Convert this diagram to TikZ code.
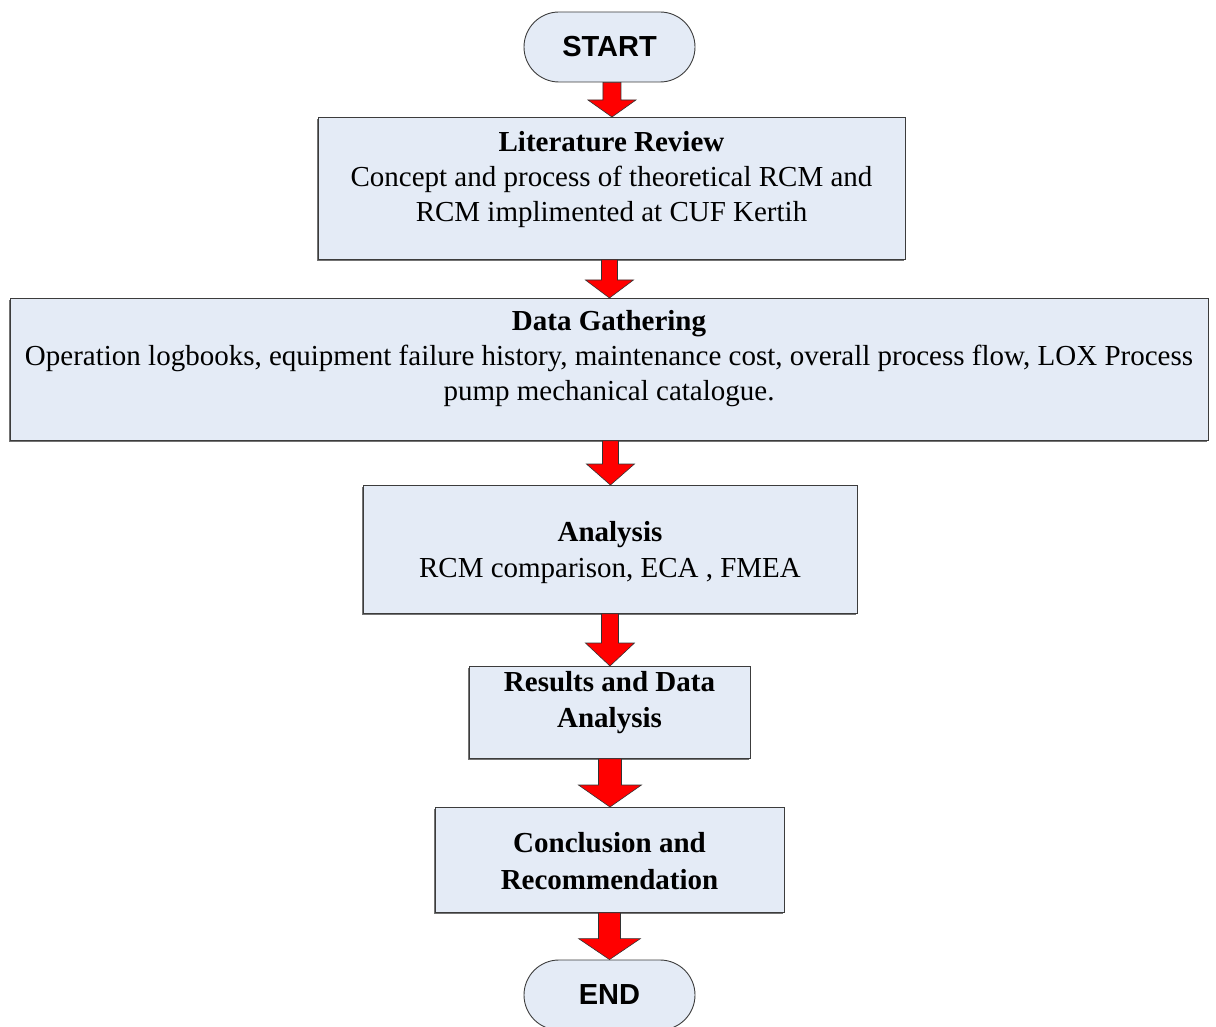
\documentclass[tikz,border=0pt]{standalone}
\usepackage{fontspec}
\setmainfont{Liberation Serif}
\newfontfamily\pillfont{Liberation Sans}
\usetikzlibrary{calc,shapes.misc,shadows}

\definecolor{boxfill}{RGB}{228,235,246}
\definecolor{boxline}{RGB}{60,60,60}
\definecolor{arrowred}{RGB}{255,0,0}

% strut that fixes the top of a text block 22pt above its first baseline
\newcommand\toprule{\rule{0pt}{22pt}}

% block arrow from the bottom of #1 to the top of #2:
% #3 half shaft width, #4 half head width, #5 head length
\newcommand\blockarrow[5]{%
  \draw[flowarrow]
    ([xshift=-#3]#2.north |- #1.south) -- ([xshift=#3]#2.north |- #1.south)
    -- ($(#2.north)+(#3,-#5)$) -- ($(#2.north)+(#4,-#5)$) -- (#2.north)
    -- ($(#2.north)+(-#4,-#5)$) -- ($(#2.north)+(-#3,-#5)$) -- cycle;}

\begin{document}
\begin{tikzpicture}[x=1pt,y=-1pt,
  stagebox/.style={draw=boxline, line width=0.9pt, fill=boxfill, inner sep=0pt,
    anchor=north west,
    drop shadow={shadow xshift=-1.6pt, shadow yshift=-1.6pt, fill=black!55, opacity=1}},
  terminal/.style={rounded rectangle, draw=boxline, line width=0.9pt, fill=boxfill,
    minimum width=171pt, minimum height=70pt, inner sep=0pt,
    font=\pillfont\bfseries\fontsize{29}{34}\selectfont},
  stagetext/.style={anchor=north, inner sep=0pt, align=center,
    font=\fontsize{29}{35}\selectfont},
  flowarrow/.style={fill=arrowred, draw=black!80, line width=0.6pt, line join=miter}]

\useasboundingbox (0,0) rectangle (1216,1027);

% terminals
\node[terminal] (start) at (609.5,47) {START};
\node[terminal] (end) at (609.5,995) {END};

% stage boxes
\node[stagebox, minimum width=587pt, minimum height=142pt] (lit) at (318,117) {};
\node[stagebox, minimum width=1198pt, minimum height=142pt] (data) at (10,298) {};
\node[stagebox, minimum width=494pt, minimum height=128pt] (ana) at (363,485) {};
\node[stagebox, minimum width=281pt, minimum height=92pt] (res) at (469,666) {};
\node[stagebox, minimum width=349pt, minimum height=105pt] (conc) at (435,807) {};

% stage texts (node top = first baseline - 22pt)
\node[stagetext] (lit-t) at (611.5,129)
  {\toprule\textbf{Literature Review}\\
   Concept and process of theoretical RCM and\\
   RCM implimented at CUF Kertih};
\node[stagetext] (data-t) at (609,308)
  {\toprule\textbf{Data Gathering}\\
   Operation logbooks, equipment failure history, maintenance cost, overall process flow, LOX Process\\
   pump mechanical catalogue.};
\node[stagetext, font=\fontsize{29}{36}\selectfont] (ana-t) at (610,519)
  {\toprule\textbf{Analysis}\\
   RCM comparison, ECA , FMEA};
\node[stagetext, font=\bfseries\fontsize{29}{36}\selectfont] (res-t) at (609.5,669)
  {\toprule Results and Data\\ Analysis};
\node[stagetext, font=\bfseries\fontsize{29}{37}\selectfont] (conc-t) at (609.5,830)
  {\toprule Conclusion and\\ Recommendation};

% connectors
\blockarrow{start}{lit}{9pt}{24pt}{17}
\blockarrow{lit}{data}{8pt}{24pt}{18}
\blockarrow{data}{ana}{8pt}{24pt}{21}
\blockarrow{ana}{res}{8.5pt}{24.5pt}{23}
\blockarrow{res}{conc}{11.5pt}{31.5pt}{22}
\blockarrow{conc}{end}{11pt}{31pt}{21}

\end{tikzpicture}
\end{document}
